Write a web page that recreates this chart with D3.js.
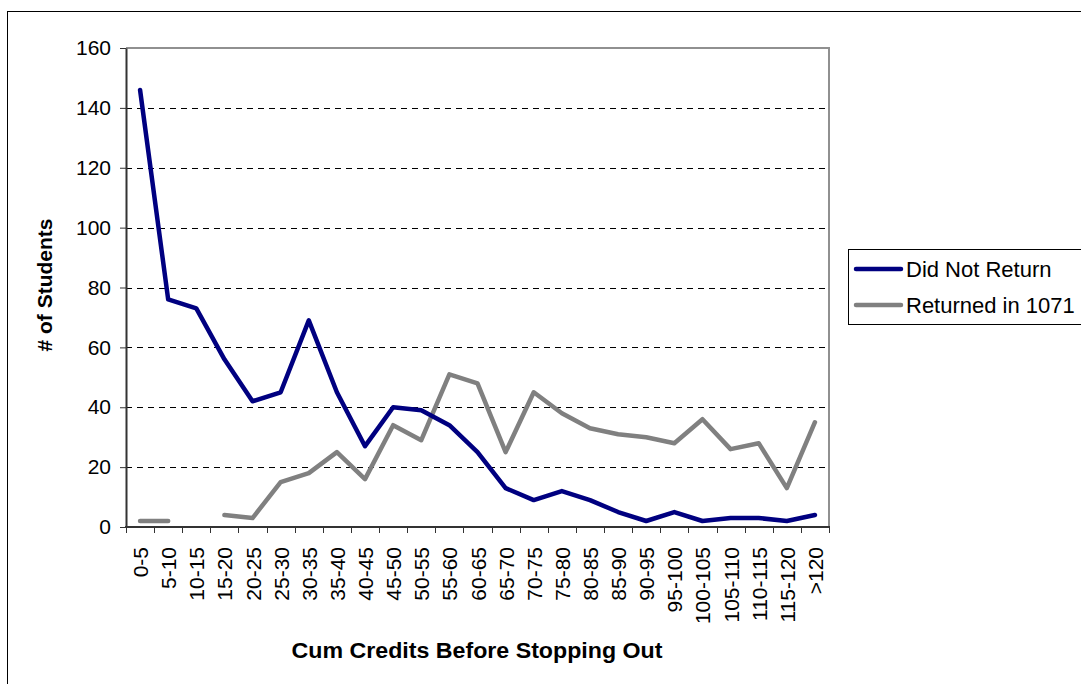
<!DOCTYPE html>
<html>
<head>
<meta charset="utf-8">
<script src="https://cdn.jsdelivr.net/npm/d3@7"></script>
<style>
  html, body { margin: 0; padding: 0; background: #fff; }
  svg { display: block; font-family: "Liberation Sans", Arial, sans-serif; }
</style>
</head>
<body>
<svg id="chart" width="1081" height="684"></svg>
<script>
// Credit bands (cumulative credits before stopping out)
const categories = ["0-5","5-10","10-15","15-20","20-25","25-30","30-35","35-40","40-45","45-50",
  "50-55","55-60","60-65","65-70","70-75","75-80","80-85","85-90","90-95","95-100",
  "100-105","105-110","110-115","115-120",">120"];

// Students who did not return
const didNotReturn = [146,76,73,56,42,45,69,45,27,40,39,34,25,13,9,12,9,5,2,5,2,3,3,2,4];

// Students who returned in 1071 (no value for 10-15)
const returned1071 = [2,2,null,4,3,15,18,25,16,34,29,51,48,25,45,38,33,31,30,28,36,26,28,13,35];

const yTicks = [0,20,40,60,80,100,120,140,160];

const seriesNames = ["Did Not Return", "Returned in 1071"];
const seriesColors = ["#000080", "#808080"];

const svg = d3.select("#chart");
const plot = { left: 126, right: 829, top: 48, bottom: 527 };
const FS = 21;

// Outer chart frame
svg.append("rect")
  .attr("x", 7.5).attr("y", 11.5)
  .attr("width", 1200).attr("height", 800)
  .attr("fill", "#fff").attr("stroke", "#000").attr("stroke-width", 1);

const x = d3.scaleBand().domain(categories).range([plot.left, plot.right]).padding(0);
const y = d3.scaleLinear().domain([0, 160]).range([plot.bottom, plot.top]);

// Dashed horizontal gridlines
svg.append("g")
  .selectAll("line")
  .data(yTicks.filter(v => v > 0 && v < 160))
  .join("line")
  .attr("x1", plot.left).attr("x2", plot.right)
  .attr("y1", d => Math.round(y(d)) + 0.5).attr("y2", d => Math.round(y(d)) + 0.5)
  .attr("stroke", "#000").attr("stroke-width", 1)
  .attr("stroke-dasharray", "6,5");

// Plot area border (top and right)
svg.append("path")
  .attr("d", `M${plot.left},${plot.top}H${plot.right}V${plot.bottom}`)
  .attr("fill", "none").attr("stroke", "#909090").attr("stroke-width", 2);

// Y axis
const yAxis = svg.append("g")
  .attr("transform", `translate(${plot.left},0)`)
  .call(d3.axisLeft(y).tickValues(yTicks).tickSize(6).tickPadding(9).tickSizeOuter(0));
yAxis.select(".domain").attr("stroke", "#333").attr("stroke-width", 2);
yAxis.selectAll(".tick line").attr("stroke", "#333");
yAxis.selectAll(".tick text")
  .attr("font-family", "Liberation Sans, Arial, sans-serif")
  .attr("font-size", FS).attr("fill", "#000");

// X axis: ticks on band boundaries, labels rotated
const xAxisG = svg.append("g").attr("transform", `translate(0,${plot.bottom})`);
xAxisG.append("line")
  .attr("x1", plot.left - 1).attr("x2", plot.right + 1)
  .attr("y1", 0).attr("y2", 0)
  .attr("stroke", "#333").attr("stroke-width", 2);
xAxisG.selectAll("line.tick")
  .data(d3.range(categories.length + 1))
  .join("line")
  .attr("class", "tick")
  .attr("x1", i => Math.round(plot.left + i * x.bandwidth()) + 0.5)
  .attr("x2", i => Math.round(plot.left + i * x.bandwidth()) + 0.5)
  .attr("y1", 0).attr("y2", 6)
  .attr("stroke", "#333").attr("stroke-width", 1);
xAxisG.selectAll("text")
  .data(categories)
  .join("text")
  .attr("transform", d => `translate(${x(d) + x.bandwidth() / 2 + 8},${20}) rotate(-90)`)
  .attr("text-anchor", "end")
  .attr("font-size", FS)
  .attr("fill", "#000")
  .text(d => d);

// Lines
const line = d3.line()
  .defined(d => d != null)
  .x((d, i) => x(categories[i]) + x.bandwidth() / 2)
  .y(d => y(d));

[[returned1071, 1], [didNotReturn, 0]].forEach(([vals, idx]) => {
  svg.append("path")
    .datum(vals)
    .attr("d", line)
    .attr("fill", "none")
    .attr("stroke", seriesColors[idx])
    .attr("stroke-width", 4.5)
    .attr("stroke-linejoin", "round")
    .attr("stroke-linecap", "round");
});

// Axis titles
svg.append("text")
  .attr("x", 477).attr("y", 658)
  .attr("text-anchor", "middle")
  .attr("font-size", 22).attr("font-weight", "bold")
  .attr("textLength", 371).attr("lengthAdjust", "spacingAndGlyphs")
  .text("Cum Credits Before Stopping Out");

svg.append("text")
  .attr("transform", `translate(52,285) rotate(-90)`)
  .attr("text-anchor", "middle")
  .attr("font-size", FS).attr("font-weight", "bold")
  .text("# of Students");

// Legend
const legend = svg.append("g");
legend.append("rect")
  .attr("x", 848.5).attr("y", 249.5)
  .attr("width", 300).attr("height", 75)
  .attr("fill", "#fff").attr("stroke", "#000").attr("stroke-width", 1);
seriesNames.forEach((name, i) => {
  const ly = 269 + i * 36;
  legend.append("line")
    .attr("x1", 856).attr("x2", 901)
    .attr("y1", ly).attr("y2", ly)
    .attr("stroke", seriesColors[i]).attr("stroke-width", 4.5)
    .attr("stroke-linecap", "round");
  legend.append("text")
    .attr("x", 906).attr("y", ly + 8)
    .attr("font-size", 22)
    .text(name);
});
</script>
</body>
</html>
